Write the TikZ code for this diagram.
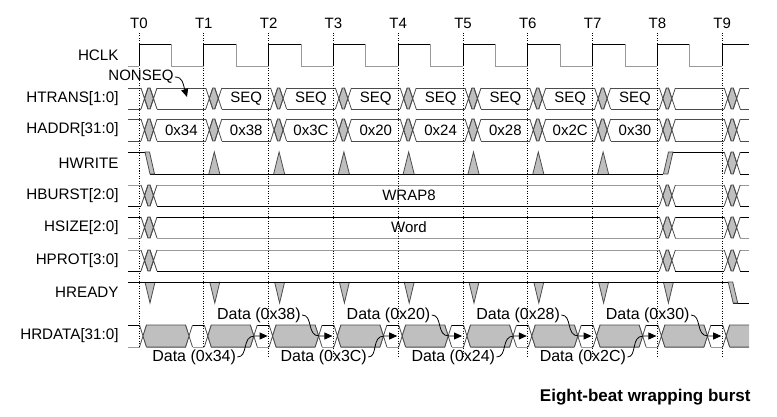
\documentclass[tikz,border=0pt]{standalone}
\usepackage{fontspec}
\setmainfont{Liberation Sans}
\usetikzlibrary{arrows.meta}
\newcommand{\tdInval}[3]{%
  \fill[white] (#1+2,#2-0.8) rectangle (#1+18,#3+0.8);
  \filldraw[gfill,xline] (#1+5.5,{(#2+#3)/2}) -- (#1+9,#2) -- (#1+11,#2) -- (#1+14.5,{(#2+#3)/2}) -- (#1+11,#3) -- (#1+9,#3) -- cycle;
  \draw[xline] (#1+2,#2) -- (#1+9,#3) (#1+2,#3) -- (#1+9,#2) (#1+11,#2) -- (#1+18,#3) (#1+11,#3) -- (#1+18,#2);
}
\newcommand{\tdX}[3]{%
  \fill[white] (#1-3.5,#2-0.8) rectangle (#1+3.5,#3+0.8);
  \draw[xline] (#1-3.5,#2) -- (#1+3.5,#3) (#1-3.5,#3) -- (#1+3.5,#2);
}
\begin{document}
\begin{tikzpicture}[x=1pt,y=-1pt,line width=0.9pt,
  sig/.style={font=\fontsize{15.2}{15}\selectfont, anchor=east, inner sep=1pt},
  val/.style={font=\fontsize{15}{15}\selectfont, inner sep=1pt},
  tlab/.style={font=\fontsize{15}{15}\selectfont, inner sep=1pt},
  dlab/.style={font=\fontsize{16}{16}\selectfont, inner sep=1pt},
  lo/.style={draw=black!40},
  hi/.style={draw=black},
  mid/.style={draw=black!70},
  xline/.style={draw=black!70, line width=0.8pt},
  gfill/.style={fill=black!25},
  tick/.style={draw=black, line width=0.8pt, dash pattern=on 1pt off 1.5pt},
  ptr/.style={draw=black, line width=0.8pt, -{Triangle[length=8pt,width=7pt]}},
]
\useasboundingbox (0,0) rectangle (777,417);

% ---- signal names ----
\node[sig] (nclk)  at (120,55)    {HCLK};
\node[sig] (ntr)   at (120,98.5)  {HTRANS[1:0]};
\node[sig] (nad)   at (120,130)   {HADDR[31:0]};
\node[sig] (nwr)   at (120,163)   {HWRITE};
\node[sig] (nbu)   at (120,195.5) {HBURST[2:0]};
\node[sig] (nsz)   at (120,227.5) {HSIZE[2:0]};
\node[sig] (npr)   at (120,260.5) {HPROT[3:0]};
\node[sig] (nrdy)  at (120,292.5) {HREADY};
\node[sig] (nrd)   at (120,336)   {HRDATA[31:0]};

% ---- clock labels ----
\foreach \k in {0,...,9}{
  \pgfmathsetmacro\t{139+64.8*\k}
  \node[tlab] (T\k) at (\t,23) {T\k};
}

% ---- HCLK ----
\draw[lo] (128,66) -- (139,66);
\foreach \k in {0,...,8}{
  \pgfmathsetmacro\t{139+64.8*\k}
  \pgfmathsetmacro\tn{139+64.8*(\k+1)}
  \draw[hi] (\t,66) -- (\t,44) -- (\t+32.4,44);
  \draw[lo] (\t+32.4,44) -- (\t+32.4,66) -- (\tn,66);
}
\draw[hi] (722.2,66) -- (722.2,44) -- (749,44);

% ---- HTRANS / HADDR ----
\draw[mid] (128,88) -- (749,88) (128,109) -- (749,109);
\draw[mid] (128,119) -- (749,119) (128,141) -- (749,141);
\foreach \k in {0,...,9}{
  \pgfmathsetmacro\t{139+64.8*\k}
  \tdInval{\t}{88}{109}
  \tdInval{\t}{119}{141}
}
\foreach \k in {1,...,7}{
  \pgfmathsetmacro\t{139+64.8*\k}
  \node[val] (tr\k) at (\t+42.4,98.5) {SEQ};
}
\foreach \k/\v in {0/0x34,1/0x38,2/0x3C,3/0x20,4/0x24,5/0x28,6/0x2C,7/0x30}{
  \pgfmathsetmacro\t{139+64.8*\k}
  \node[val] (ad\k) at (\t+42.4,130) {\v};
}
\node[tlab] (nonseq) at (141,77) {NONSEQ};
\draw[ptr] (nonseq.east) .. controls (183,77) and (183,84) .. (187,97);

% ---- HWRITE ----
\draw[hi] (128,152) -- (145,152);
\draw[hi] (150,174) -- (663.4,174);
\filldraw[gfill,xline] (145,152) -- (149.5,152) -- (154.5,174) -- (150,174) -- cycle;
\foreach \k in {1,...,7}{
  \pgfmathsetmacro\t{139+64.8*\k}
  \fill[gfill] (\t+5,174) -- (\t+10.5,152) -- (\t+16,174) -- cycle;
  \draw[xline] (\t+5,174) -- (\t+10.5,152) -- (\t+16,174);
}
\draw[hi] (668.5,152) -- (724.2,152);
\filldraw[gfill,xline] (663.4,174) -- (667.9,174) -- (673,152) -- (668.5,152) -- cycle;
\draw[hi] (740.2,152) -- (749,152) (740.2,174) -- (749,174);
\tdInval{722.2}{152}{174}

% ---- HBURST / HSIZE / HPROT ----
\draw[lo] (128,185) -- (749,185); \draw[hi] (128,206) -- (749,206);
\draw[hi] (128,217) -- (749,217); \draw[lo] (128,238) -- (749,238);
\draw[lo] (128,250) -- (749,250); \draw[hi] (128,271) -- (749,271);
\foreach \k in {0,8,9}{
  \pgfmathsetmacro\t{139+64.8*\k}
  \tdInval{\t}{185}{206}
  \tdInval{\t}{217}{238}
  \tdInval{\t}{250}{271}
}
\node[val] (wrap) at (409,195.5) {WRAP8};
\node[val] (word) at (409,227.5) {Word};

% ---- HREADY ----
\foreach \k in {0,...,8}{
  \pgfmathsetmacro\t{139+64.8*\k}
  \fill[gfill] (\t+6,282) -- (\t+11,303) -- (\t+16,282) -- cycle;
  \draw[xline] (\t+6,282) -- (\t+11,303) -- (\t+16,282);
}
\draw[hi] (128,282) -- (728.2,282);
\draw[hi] (733.2,303) -- (749,303);
\filldraw[gfill,xline] (728.2,282) -- (732.7,282) -- (737.7,303) -- (733.2,303) -- cycle;

% ---- HRDATA ----
\draw[hi] (128,325) -- (749,325);
\draw[lo] (128,347) -- (749,347);
\foreach \k in {0,...,9}{
  \pgfmathsetmacro\t{139+64.8*\k}
  \tdX{\t+4}{325}{347}
}
\foreach \k in {0,...,8}{
  \pgfmathsetmacro\t{139+64.8*\k}
  \tdX{\t+50}{325}{347}
  \filldraw[gfill,xline] (\t+4,336) -- (\t+7.5,325) -- (\t+46.5,325) -- (\t+50,336) -- (\t+46.5,347) -- (\t+7.5,347) -- cycle;
}
\fill[gfill] (726.2,336) -- (729.7,325) -- (749,325) -- (749,347) -- (729.7,347) -- cycle;
\draw[xline] (749,325) -- (729.7,325) -- (726.2,336) -- (729.7,347) -- (749,347);

\foreach \k/\v in {2/0x34,3/0x38,4/0x3C,5/0x20,6/0x24,7/0x28,8/0x2C,9/0x30}{
  \pgfmathsetmacro\t{139+64.8*\k}
  \pgfmathsetmacro\ly{mod(\k,2)==0 ? 357 : 315}
  \node[dlab] (d\k) at (\t-74.5,\ly) {Data (\v)};
  \draw[ptr] (d\k.east) .. controls (\t-20,\ly) and (\t-27,336) .. (\t-14,336) -- (\t-1,336);
}

% ---- clock edge markers ----
\foreach \k in {0,1}{
  \pgfmathsetmacro\t{139+64.8*\k}
  \draw[tick] (\t,33) -- (\t,347);
}
\foreach \k in {2,...,9}{
  \pgfmathsetmacro\t{139+64.8*\k}
  \draw[tick] (\t,33) -- (\t,358);
}

\node[anchor=east, font=\fontsize{17}{17}\selectfont\bfseries, inner sep=0pt] (title) at (751,397) {Eight-beat wrapping burst};
\end{tikzpicture}
\end{document}
